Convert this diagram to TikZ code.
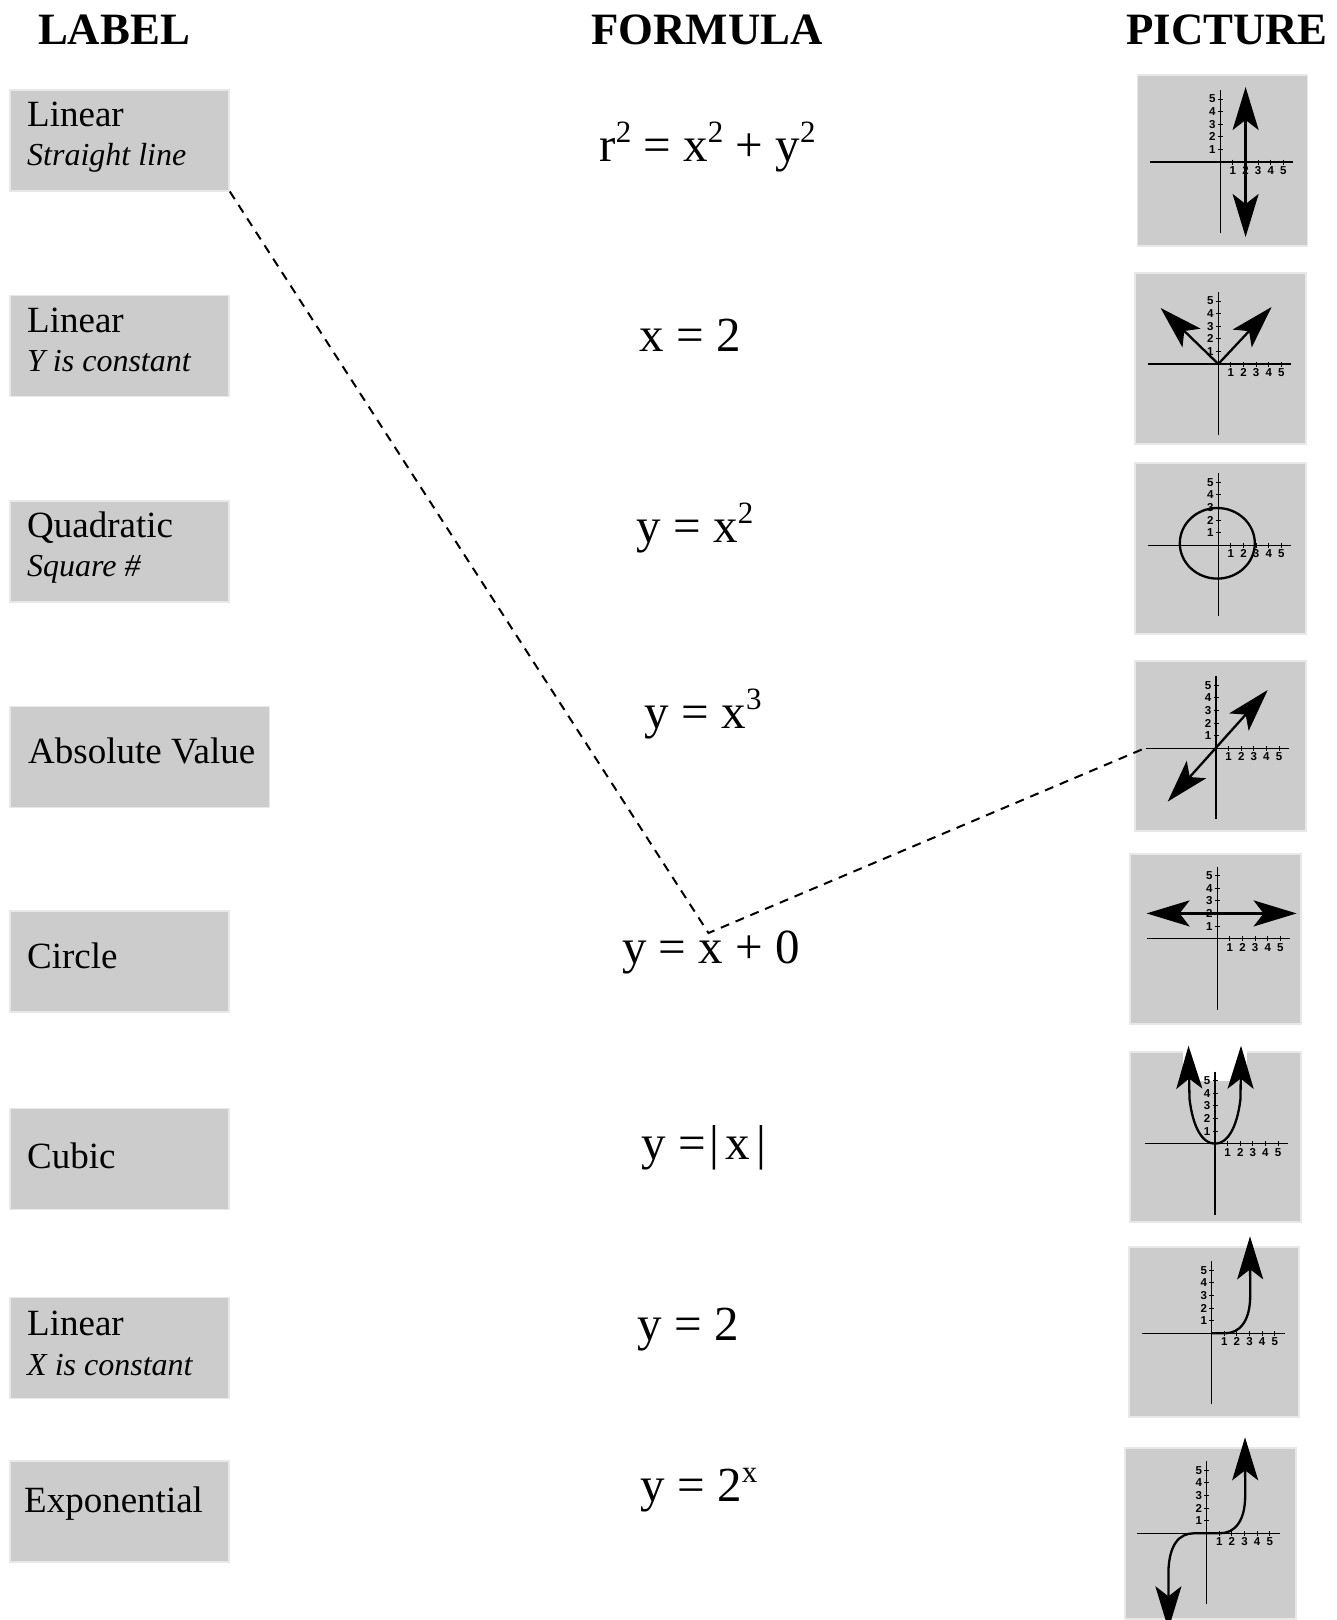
\documentclass[tikz,border=0pt]{standalone}
\usepackage{fontspec}
\setmainfont{Liberation Serif}
\newfontfamily\axfont{Liberation Sans}
\usetikzlibrary{arrows.meta}
\newcommand\fsup[1]{\raisebox{19pt}{\fontsize{31}{31}\selectfont #1}}
\newcommand\drawaxes[1]{%
  \draw[axis] (-70,0) -- (73,0);
  \draw[axis] (0,-72) -- (0,71);
  \foreach \k in {1,...,5} {
    \draw[tick] (\k*12.6,-2.5) -- (\k*12.6,2.5);
    \draw[tick] (-2.5,-\k*12.6) -- (2.5,-\k*12.6);
    \node[num, anchor=base] (#1x\k) at (\k*12.6,12.5) {\k};
    \node[num, anchor=east] (#1y\k) at (-4.5,-\k*12.6) {\k};
  }%
}
\begin{document}
\begin{tikzpicture}[x=1pt,y=-1pt,
  box/.style={fill=black!20, draw=black!9, line width=1.5pt, anchor=north west, inner sep=0pt, minimum height=101pt},
  head/.style={font=\fontsize{44.8}{44.8}\selectfont\bfseries, anchor=base, inner sep=0pt},
  lmain/.style={font=\fontsize{37}{37}\selectfont, anchor=base west, inner sep=0pt},
  lsub/.style={font=\fontsize{32}{32}\selectfont\itshape, anchor=base west, inner sep=0pt},
  formula/.style={font=\fontsize{49}{49}\selectfont, anchor=base west, inner sep=0pt},
  panel/.style={fill=black!20, draw=black!9, line width=1.5pt, anchor=north west, inner sep=0pt},
  axis/.style={line width=1.5pt},
  tick/.style={line width=1pt},
  num/.style={font=\axfont\bfseries\fontsize{11.5}{11.5}\selectfont, inner sep=0pt},
  curve/.style={line width=2.3pt},
  bigtip/.style={-{Stealth[length=43pt,width=26pt,inset=10pt]}},
  both/.style={{Stealth[length=43pt,width=26pt,inset=10pt]}-{Stealth[length=43pt,width=26pt,inset=10pt]}},
  conn/.style={dash pattern=on 9pt off 7pt, line width=2pt}
]
\path[use as bounding box, fill=white] (0,0) rectangle (1337,1620);

% headers
\node[head] (hlabel) at (114,44) {LABEL};
\node[head] (hformula) at (707,44) {FORMULA};
\node[head] (hpicture) at (1227,44) {PICTURE};

% label boxes
\node[box, minimum width=219pt] (lab1) at (9.3,89) {};
\node[lmain] (lab1a) at (27,126) {Linear};
\node[lsub] (lab1b) at (27,165.5) {Straight line};

\node[box, minimum width=219pt] (lab2) at (9.3,294.5) {};
\node[lmain] (lab2a) at (27,332) {Linear};
\node[lsub] (lab2b) at (27,371.5) {Y is constant};

\node[box, minimum width=219pt] (lab3) at (9.3,500) {};
\node[lmain] (lab3a) at (27,537.3) {Quadratic};
\node[lsub] (lab3b) at (27,576.5) {Square \#};

\node[box, minimum width=259.3pt] (lab4) at (9.3,705.7) {};
\node[lmain] (lab4a) at (28,763.5) {Absolute Value};

\node[box, minimum width=219pt] (lab5) at (9.3,910) {};
\node[lmain] (lab5a) at (27,968) {Circle};

\node[box, minimum width=219pt] (lab6) at (9.3,1107.6) {};
\node[lmain] (lab6a) at (27,1168) {Cubic};

\node[box, minimum width=219pt] (lab7) at (9.3,1296.7) {};
\node[lmain] (lab7a) at (27,1335) {Linear};
\node[lsub] (lab7b) at (27,1375) {X is constant};

\node[box, minimum width=219pt] (lab8) at (9.3,1460) {};
\node[lmain] (lab8a) at (24,1512) {Exponential};

% formulas
\node[formula] (f1) at (599.3,161) {r\fsup{2} = x\fsup{2} + y\fsup{2}};
\node[formula] (f2) at (639.5,351.3) {x = 2};
\node[formula] (f3) at (636.5,542.4) {y = x\fsup{2}};
\node[formula] (f4) at (644.7,728.4) {y = x\fsup{3}};
\node[formula] (f5) at (622,963) {y = x + 0};
\node[formula] (f6) at (641.6,1159) {y =\kern3pt|\kern7pt x\kern6pt|};
\node[formula] (f7) at (637.5,1340) {y = 2};
\node[formula] (f8) at (640.6,1501) {y = 2\fsup{x}};

% picture panels
\node[panel, minimum width=170pt, minimum height=171pt] (pic1) at (1136.5,74) {};
\node[panel, minimum width=171pt, minimum height=171pt] (pic2) at (1134,272) {};
\node[panel, minimum width=171pt, minimum height=171pt] (pic3) at (1134,462) {};
\node[panel, minimum width=171pt, minimum height=170pt] (pic4) at (1134,660) {};
\node[panel, minimum width=171pt, minimum height=170pt] (pic5) at (1129,853) {};
\node[panel, minimum width=171pt, minimum height=170pt] (pic6) at (1129,1051) {};
\node[panel, minimum width=170pt, minimum height=170pt] (pic7) at (1128,1246) {};
\node[panel, minimum width=171pt, minimum height=171pt] (pic8) at (1124,1447) {};

% panel 1: x = 2
\begin{scope}[shift={(1220.3,162)}]
  \drawaxes{pa}
  \draw[curve, both] (25.3,75) -- (25.3,-75);
\end{scope}
% panel 2: |x|
\begin{scope}[shift={(1218.3,364)}]
  \drawaxes{pb}
  \draw[curve, bigtip] (0,0) -- (-57.7,-56);
  \draw[curve, bigtip] (0,0) -- (53.3,-57);
\end{scope}
% panel 3: circle
\begin{scope}[shift={(1218.3,545.3)}]
  \drawaxes{pc}
  \draw[curve] (-1,-2) ellipse [x radius=37.5pt, y radius=35.3pt];
\end{scope}
% panel 4: y = x
\begin{scope}[shift={(1216,748.3)}]
  \drawaxes{pd}
  \draw[curve, both] (-48.3,53.3) -- (51.7,-58.3);
\end{scope}
% panel 5: y = 2
\begin{scope}[shift={(1217.3,938.7)}]
  \drawaxes{pe}
  \draw[curve, both] (-70.7,-25.3) -- (79.3,-25.3);
\end{scope}
% panel 6: parabola
\begin{scope}[shift={(1215,1143.7)}]
  \fill[white] (-32,-94) rectangle (32,-62.7);
  \drawaxes{pf}
  \draw[curve, both] (-26.5,-98) -- (-25.5,-45) .. controls (-22,-15) and (-12,0) .. (0,0)
     .. controls (12,0) and (22,-15) .. (25.5,-45) -- (26,-98);
\end{scope}
% panel 7: exponential
\begin{scope}[shift={(1211.7,1333.3)}]
  \drawaxes{pg}
  \draw[curve, bigtip] (0,0) -- (13,0) .. controls (28,0) and (38.5,-12) .. (38.5,-38) -- (38.3,-97);
\end{scope}
% panel 8: cubic
\begin{scope}[shift={(1206.7,1533.3)}]
  \drawaxes{ph}
  \draw[curve, both] (-38.3,96) -- (-38.3,38) .. controls (-37.5,12) and (-28,0) .. (-13,0) -- (13,0)
     .. controls (28,0) and (38.5,-12) .. (38.5,-38) -- (38.3,-96);
\end{scope}

% dashed connector
\coordinate (turn) at (708.5,933);
\coordinate (c4end) at (1143,749);
\draw[conn] (lab1.south east) -- (turn) -- (c4end);
\end{tikzpicture}
\end{document}
